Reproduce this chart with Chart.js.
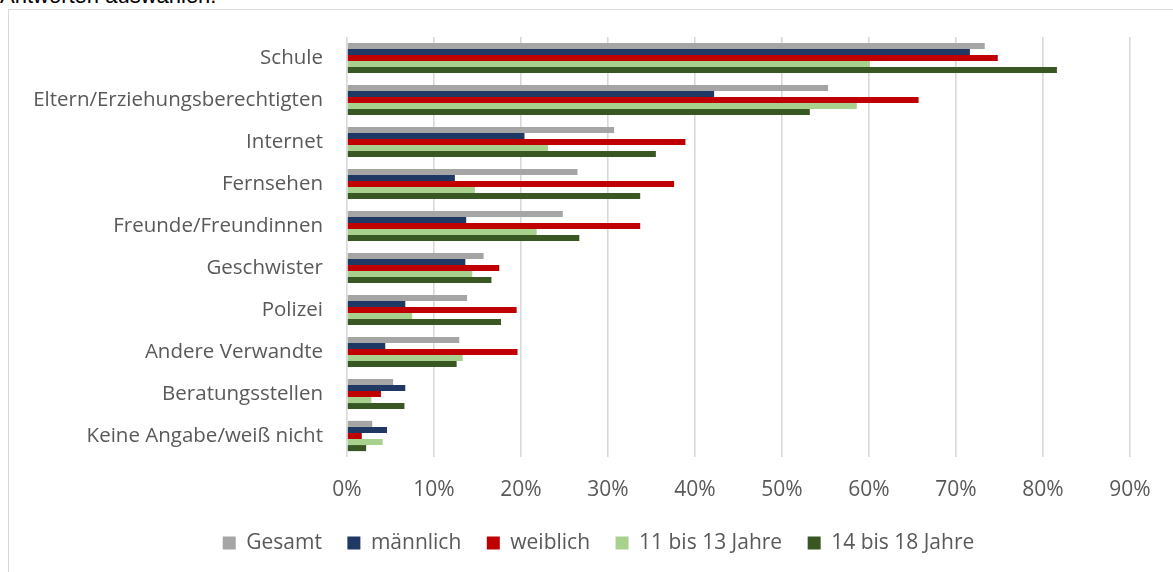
<!DOCTYPE html>
<html lang="de">
<head>
<meta charset="utf-8">
<title>Informationsquellen</title>
<script src="https://cdn.jsdelivr.net/npm/chart.js@4/dist/chart.umd.min.js"></script>
<style>
  html, body { margin: 0; padding: 0; background: #ffffff; overflow: hidden; width: 1173px; height: 572px; }
  #frage {
    position: absolute; left: 0; top: -14.6px; margin: 0;
    font-family: "Liberation Sans", Arial, sans-serif; font-size: 22px; line-height: 22px;
    color: #000000; white-space: nowrap;
  }
  #rahmen {
    position: absolute; left: 8px; top: 9px; width: 1200px; height: 600px;
    border: 1.5px solid #d9d9d9; box-sizing: border-box;
  }
  #chart { position: absolute; left: 0; top: 0; }
</style>
</head>
<body>
<p id="frage">Antworten auswählen.</p>
<div id="rahmen"></div>
<canvas id="chart" width="1173" height="572"></canvas>
<script>
// Antwortkategorien (von oben nach unten)
const categories = [
  'Schule',
  'Eltern/Erziehungsberechtigten',
  'Internet',
  'Fernsehen',
  'Freunde/Freundinnen',
  'Geschwister',
  'Polizei',
  'Andere Verwandte',
  'Beratungsstellen',
  'Keine Angabe/weiß nicht'
];

// Anteile in Prozent je Gruppe
const gesamt       = [73.3, 55.3, 30.7, 26.5, 24.8, 15.7, 13.8, 12.9, 5.3, 2.9];
const maennlich    = [71.6, 42.2, 20.4, 12.4, 13.7, 13.6,  6.7,  4.4, 6.7, 4.6];
const weiblich     = [74.8, 65.7, 38.9, 37.6, 33.7, 17.5, 19.5, 19.6, 3.9, 1.7];
const alter11bis13 = [60.1, 58.6, 23.1, 14.7, 21.8, 14.4,  7.5, 13.3, 2.8, 4.1];
const alter14bis18 = [81.6, 53.2, 35.5, 33.7, 26.7, 16.6, 17.7, 12.6, 6.6, 2.2];

const seriesNames = ['Gesamt', 'männlich', 'weiblich', '11 bis 13 Jahre', '14 bis 18 Jahre'];

// Achsenskala in Prozent
const xTickValues = [0, 10, 20, 30, 40, 50, 60, 70, 80, 90];

const colors = ['#a5a5a5', '#203864', '#c00000', '#a9d18e', '#385723'];
const textColor = '#595959';
const fontFamily = '"Open Sans", "Noto Sans", sans-serif';

const seriesValues = [gesamt, maennlich, weiblich, alter11bis13, alter14bis18];

const datasets = seriesNames.map((name, i) => ({
  label: name,
  data: seriesValues[i],
  backgroundColor: colors[i],
  borderWidth: 0,
  barPercentage: 1.0,
  categoryPercentage: 0.72
}));

// Legende über dem Bereich 67…1130 zentrieren, unabhängig von der Achsenbreite
const legendSpan = {
  id: 'legendSpan',
  afterLayout(chart) {
    const lg = chart.legend;
    if (!lg) return;
    lg.left = 67;
    lg.right = 1130;
    lg.width = lg.right - lg.left;
  }
};

new Chart(document.getElementById('chart'), {
  type: 'bar',
  data: { labels: categories, datasets },
  plugins: [legendSpan],
  options: {
    indexAxis: 'y',
    responsive: false,
    animation: false,
    devicePixelRatio: 1,
    layout: { padding: { left: 8, right: 43, top: 37, bottom: 8.5 } },
    plugins: {
      tooltip: { enabled: false },
      legend: {
        position: 'bottom',
        labels: {
          color: textColor,
          font: { family: fontFamily, size: 21 },
          boxWidth: 13,
          boxHeight: 13,
          padding: 25.5
        }
      }
    },
    scales: {
      x: {
        min: xTickValues[0],
        max: xTickValues[xTickValues.length - 1],
        afterBuildTicks: (scale) => { scale.ticks = xTickValues.map(v => ({ value: v })); },
        afterFit: (scale) => { scale.height = 50; },
        ticks: {
          color: textColor,
          font: { family: fontFamily, size: 21 },
          padding: 20,
          callback: (v) => v + '%'
        },
        grid: { color: '#d9d9d9', lineWidth: 1.6, drawTicks: false },
        border: { display: false }
      },
      y: {
        afterFit: (scale) => { scale.width = 339; },
        ticks: {
          color: textColor,
          font: { family: fontFamily, size: 20.5 },
          padding: 24,
          autoSkip: false
        },
        grid: { display: false, drawTicks: false },
        border: { display: false }
      }
    }
  }
});
</script>
</body>
</html>
